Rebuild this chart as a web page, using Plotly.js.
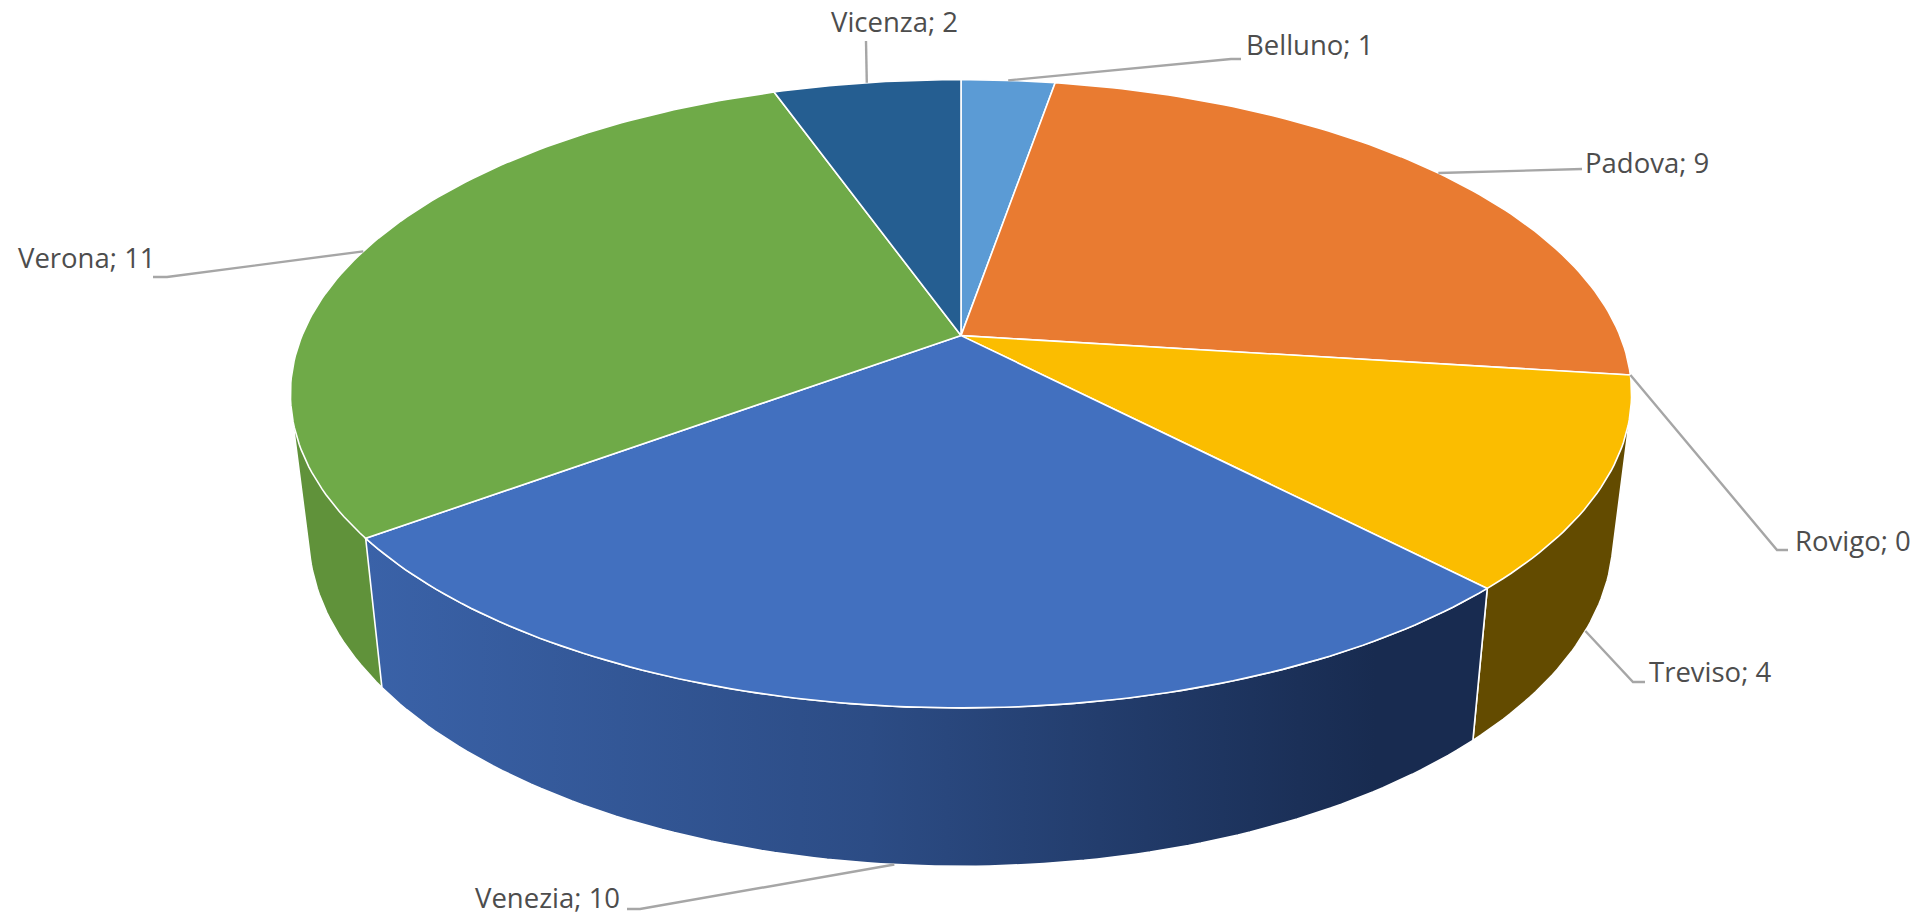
<!DOCTYPE html>
<html>
<head>
<meta charset="utf-8">
<script src="https://cdn.plot.ly/plotly-3.0.1.min.js"></script>
<style>html,body{margin:0;padding:0;background:#fff;overflow:hidden}#chart{width:1917px;height:917px}</style>
</head>
<body>
<div id="chart"></div>
<script>
// ---- data ----
const categories = ['Belluno', 'Padova', 'Rovigo', 'Treviso', 'Venezia', 'Verona', 'Vicenza'];
const values = [1, 9, 0, 4, 10, 11, 2];

// ---- style ----
const topColors = ['#5B9BD5', '#E97B31', '#A5A5A5', '#FBBD00', '#4270BF', '#6FAA48', '#255E91'];
const wallColors = ['#3B6F9F', '#9A5020', '#6C6C6C', '#634B00', null, '#60923A', '#183E60'];
const venetoWallScale = [[0, '#3A62A8'], [0.45, '#2C4C85'], [0.9, '#182B50'], [1, '#182B50']];
const visibleWalls = ['Verona', 'Treviso', 'Venezia'];   // back to front

// ---- projection of the tilted disc (page pixels) ----
const topDisc = {cx: 961, cy: 335.6, a: 659, b: 303.4};
const baseDisc = {cx: 961, cy: 474, a: 641, b: 319.7};
const persp = 0.185;
function project(d, deg) {
  const t = deg * Math.PI / 180, X = Math.sin(t), Y = -Math.cos(t), w = 1 - persp * Y;
  return [d.cx + d.a * X / w, d.cy + d.b * Y / w];
}
function arc(d, a0, a1) {
  const n = Math.max(2, Math.ceil(Math.abs(a1 - a0))), out = [];
  for (let i = 0; i <= n; i++) out.push(project(d, a0 + (a1 - a0) * i / n));
  return out;
}
function hull(points) {
  const p = points.slice().sort((u, v) => u[0] - v[0] || u[1] - v[1]);
  const cross = (o, a, b) => (a[0] - o[0]) * (b[1] - o[1]) - (a[1] - o[1]) * (b[0] - o[0]);
  const lo = [], up = [];
  p.forEach(q => { while (lo.length > 1 && cross(lo[lo.length - 2], lo[lo.length - 1], q) <= 0) lo.pop(); lo.push(q); });
  p.slice().reverse().forEach(q => { while (up.length > 1 && cross(up[up.length - 2], up[up.length - 1], q) <= 0) up.pop(); up.push(q); });
  lo.pop(); up.pop();
  return lo.concat(up);
}

// slice angles from values
const total = values.reduce((s, v) => s + v, 0);
let acc = 0;
const slices = categories.map((c, i) => {
  const a0 = acc / total * 360; acc += values[i];
  const a1 = acc / total * 360;
  return {name: c, value: values[i], a0, a1, mid: (a0 + a1) / 2, i};
});

const traces = [];
// side walls: the hull adds the straight silhouette edge between the two rims
visibleWalls.forEach(name => {
  const s = slices.find(q => q.name === name);
  const startAngle = name === 'Treviso' ? s.a0 - 20 : s.a0;
  const raw = arc(topDisc, startAngle, s.a1).concat(arc(baseDisc, s.a1, s.a0));
  const pts = name === 'Venezia' ? raw : hull(raw);
  pts.push(pts[0]);
  const tr = {
    type: 'scatter', mode: 'lines', name: s.name + ' side', showlegend: false, hoverinfo: 'skip',
    x: pts.map(p => p[0]), y: pts.map(p => p[1]), fill: 'toself',
    line: {color: '#FFFFFF', width: 1.6}
  };
  if (wallColors[s.i]) tr.fillcolor = wallColors[s.i];
  else tr.fillgradient = {type: 'horizontal', colorscale: venetoWallScale};
  traces.push(tr);
});
// top faces
slices.filter(s => s.value > 0).forEach(s => {
  const pts = [[topDisc.cx, topDisc.cy]].concat(arc(topDisc, s.a0, s.a1));
  pts.push(pts[0]);
  traces.push({
    type: 'scatter', mode: 'lines', name: s.name, showlegend: false,
    x: pts.map(p => p[0]), y: pts.map(p => p[1]), fill: 'toself',
    fillcolor: topColors[s.i], line: {color: '#FFFFFF', width: 1.6},
    text: s.name + '; ' + s.value, hoverinfo: 'text', hoveron: 'fills'
  });
});

// ---- leader lines and labels ----
const labelSetup = {
  Belluno: {onBase: false, elbow: [[1231, 59], [1241, 59]], text: [1245, 44]},
  Padova:  {onBase: false, elbow: [[1582, 169]], text: [1584, 162]},
  Rovigo:  {onBase: false, elbow: [[1777, 550], [1788, 550]], text: [1794, 540]},
  Treviso: {onBase: true,  elbow: [[1633, 682], [1645, 682]], text: [1648, 671]},
  Venezia: {onBase: true,  elbow: [[640, 909], [627, 909]], text: [474, 897.5]},
  Verona:  {onBase: false, elbow: [[167, 277], [153, 277]], text: [17, 257]},
  Vicenza: {onBase: false, elbow: [[866, 41]], text: [830, 21]}
};
const annotations = [];
slices.forEach(s => {
  const cfg = labelSetup[s.name];
  const pts = [project(cfg.onBase ? baseDisc : topDisc, s.mid)].concat(cfg.elbow);
  traces.push({
    type: 'scatter', mode: 'lines', showlegend: false, hoverinfo: 'skip', name: s.name + ' leader',
    x: pts.map(p => p[0]), y: pts.map(p => p[1]),
    line: {color: '#A6A6A6', width: 2.4}
  });
  annotations.push({
    xref: 'x', yref: 'y', x: cfg.text[0], y: cfg.text[1], showarrow: false,
    xanchor: 'left', yanchor: 'middle', borderpad: 0,
    text: s.name + '; ' + s.value,
    font: {family: '"Open Sans", "Noto Sans", sans-serif', size: 27.5, color: '#4D4D4D'}
  });
});

Plotly.newPlot('chart', traces, {
  width: 1917, height: 917,
  margin: {l: 0, r: 0, t: 0, b: 0},
  paper_bgcolor: '#FFFFFF', plot_bgcolor: '#FFFFFF',
  showlegend: false,
  xaxis: {range: [0, 1917], visible: false, fixedrange: true},
  yaxis: {range: [917, 0], visible: false, fixedrange: true},
  annotations
}, {displayModeBar: false});
</script>
</body>
</html>
